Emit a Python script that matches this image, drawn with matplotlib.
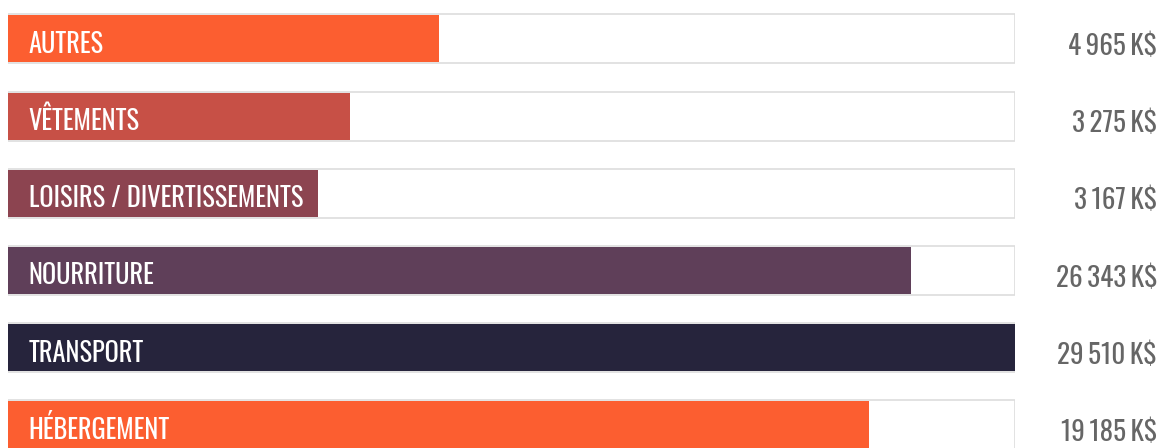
import matplotlib
matplotlib.use("Agg")
import matplotlib.pyplot as plt
from matplotlib import transforms

categories = ["AUTRES", "VÊTEMENTS", "LOISIRS / DIVERTISSEMENTS",
              "NOURRITURE", "TRANSPORT", "HÉBERGEMENT"]
amounts_k = [4965, 3275, 3167, 26343, 29510, 19185]
fill_pct = [42.8, 34.0, 30.8, 89.7, 100.0, 85.5]
bar_colors = ["#FC5E30", "#C75046", "#8C4450", "#5F3F59", "#26243C", "#FC5E30"]

FONT = ["Oswald", "DejaVu Sans"]
SEP = "\u2006"


def fmt_amount(v):
    return f"{v:,}".replace(",", SEP) + SEP + "K$"


W, H = 1162, 448
fig = plt.figure(figsize=(W / 100, H / 100), dpi=100)
fig.patch.set_facecolor("white")
ax = fig.add_axes([8 / W, 0, 1007 / W, 1])
ax.set_xlim(0, 100)
ax.set_ylim(5.298, -0.505)
ax.axis("off")

rows = list(range(len(categories)))

# background tracks
ax.barh(rows, [100] * len(rows), height=0.635, color="white",
        edgecolor="#dddddd", linewidth=1.2, zorder=1)
# filled portion
ax.barh(rows, fill_pct, height=0.609, color=bar_colors, linewidth=0, zorder=2)

value_tf = transforms.blended_transform_factory(fig.transFigure, ax.transData)
for r, cat, amt in zip(rows, categories, amounts_k):
    ax.annotate(cat, xy=(0, r), xytext=(15, -10), textcoords="offset points",
                ha="left", va="baseline", color="white", fontsize=19,
                family=FONT, zorder=3)
    ax.annotate(fmt_amount(amt), xy=(1157 / W, r), xycoords=value_tf,
                xytext=(0, -11.5), textcoords="offset points",
                ha="right", va="baseline", color="#666666", fontsize=19.5,
                family=FONT, annotation_clip=False)

fig.savefig("out.png", dpi=100)
